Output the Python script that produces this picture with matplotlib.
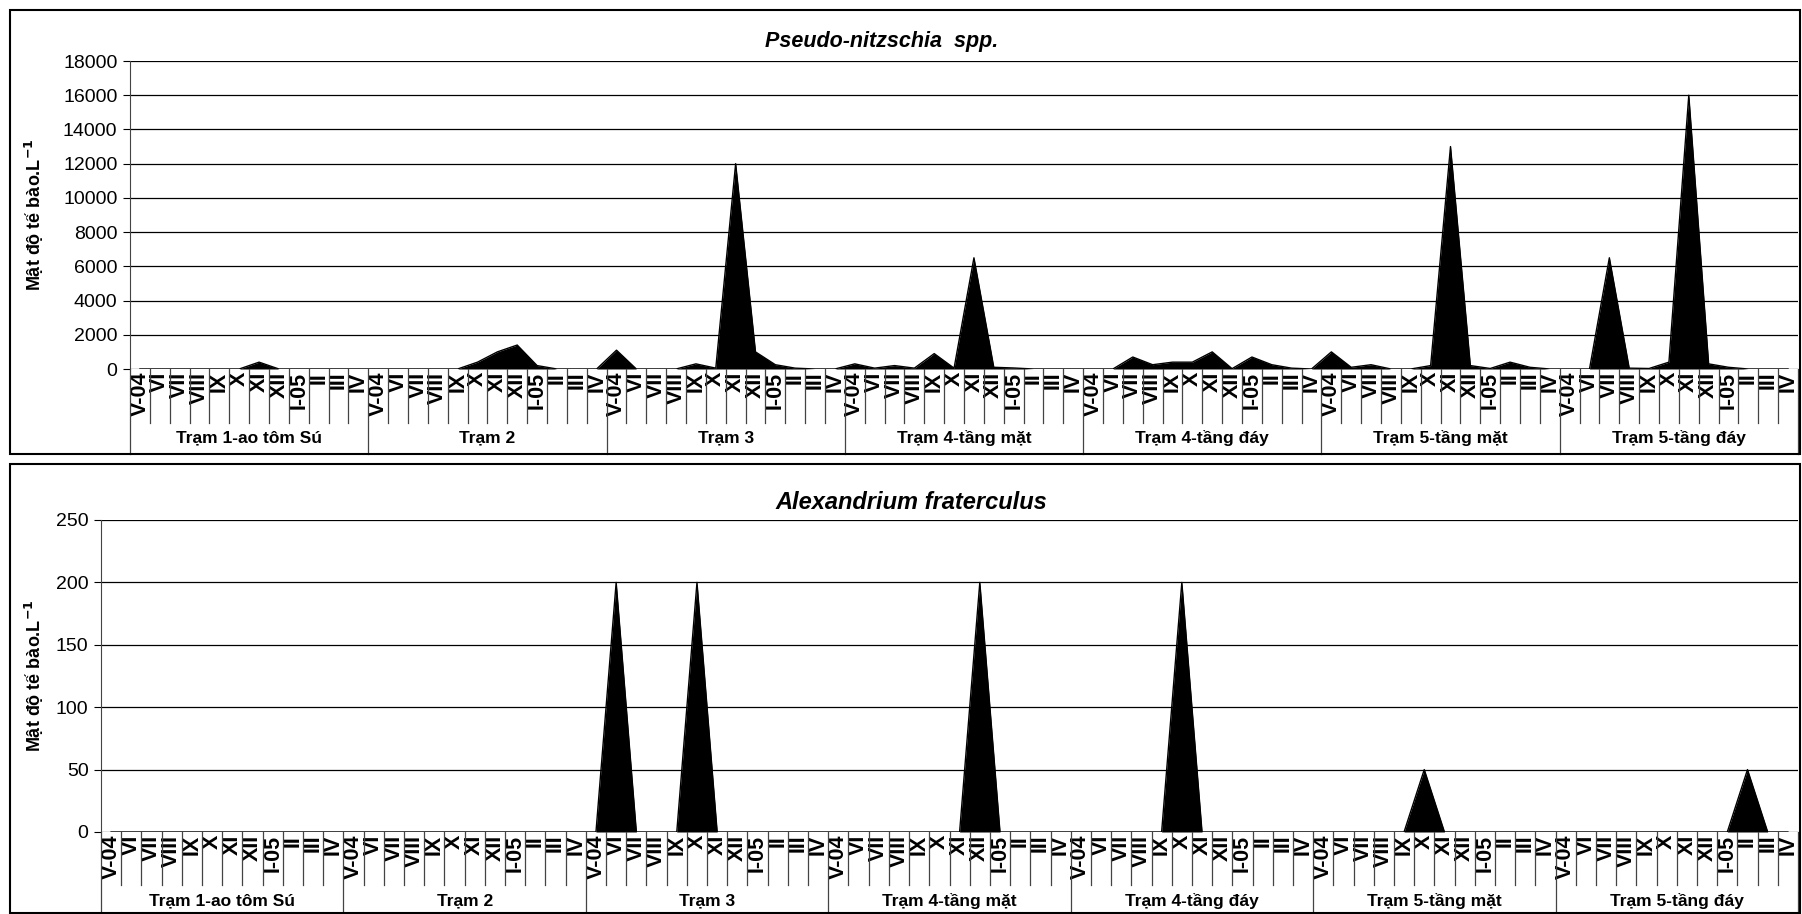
import numpy as np
import matplotlib
matplotlib.use("Agg")
import matplotlib.pyplot as plt
from matplotlib.transforms import blended_transform_factory
from matplotlib.patches import Rectangle

plt.rcParams['font.family'] = ['Liberation Sans', 'DejaVu Sans']

months = ['V-04', 'VI', 'VII', 'VIII', 'IX', 'X', 'XI', 'XII', 'I-05', 'II', 'III', 'IV']
stations = ['Trạm 1-ao tôm Sú', 'Trạm 2', 'Trạm 3', 'Trạm 4-tầng mặt',
            'Trạm 4-tầng đáy', 'Trạm 5-tầng mặt', 'Trạm 5-tầng đáy']

# Pseudo-nitzschia spp. (tế bào/L), 12 tháng cho mỗi trạm
pseudo_t1 = [0, 0, 0, 0, 0, 0, 400, 0, 0, 0, 0, 0]
pseudo_t2 = [0, 0, 0, 0, 0, 400, 1000, 1400, 200, 0, 0, 0]
pseudo_t3 = [1100, 0, 0, 0, 300, 50, 12000, 1000, 250, 50, 0, 0]
pseudo_t4m = [300, 50, 200, 50, 900, 50, 6500, 100, 60, 0, 0, 0]
pseudo_t4d = [0, 0, 700, 250, 400, 400, 1000, 20, 700, 250, 50, 0]
pseudo_t5m = [1000, 100, 250, 0, 0, 200, 13000, 200, 30, 400, 100, 0]
pseudo_t5d = [0, 0, 6500, 50, 30, 400, 16000, 300, 100, 0, 0, 0]

# Alexandrium fraterculus
alex_t1 = [0] * 12
alex_t2 = [0] * 12
alex_t3 = [0, 200, 0, 0, 0, 200, 0, 0, 0, 0, 0, 0]
alex_t4m = [0, 0, 0, 0, 0, 0, 0, 200, 0, 0, 0, 0]
alex_t4d = [0, 0, 0, 0, 0, 200, 0, 0, 0, 0, 0, 0]
alex_t5m = [0, 0, 0, 0, 0, 50, 0, 0, 0, 0, 0, 0]
alex_t5d = [0, 0, 0, 0, 0, 0, 0, 0, 0, 50, 0, 0]

pseudo = pseudo_t1 + pseudo_t2 + pseudo_t3 + pseudo_t4m + pseudo_t4d + pseudo_t5m + pseudo_t5d
alex = alex_t1 + alex_t2 + alex_t3 + alex_t4m + alex_t4d + alex_t5m + alex_t5d

W, H = 1802, 914
fig = plt.figure(figsize=(W / 100, H / 100), dpi=100)

# khung viền của hai biểu đồ
for (x0, y0, x1, y1) in [(10, 10, 1800, 454), (10, 464, 1800, 913)]:
    fig.patches.append(Rectangle((x0 / W, 1 - y1 / H), (x1 - x0) / W, (y1 - y0) / H,
                                 transform=fig.transFigure, fill=False,
                                 edgecolor='black', linewidth=1.5))


def draw_panel(rect, values, ymax, ystep, title, title_xy, title_size,
               ylabel_xy, month_depth, station_depth, station_y):
    ax = fig.add_axes(rect)
    n = len(values)
    x = np.arange(n)
    ax.fill_between(x, values, 0, color='black', linewidth=0)
    ax.plot(x, values, color='black', linewidth=1)
    ax.set_xlim(-0.5, n - 0.5)
    ax.set_ylim(0, ymax)
    ax.set_yticks(np.arange(0, ymax + 1, ystep))
    ax.yaxis.grid(True, color='black', linewidth=0.9)
    ax.set_axisbelow(True)
    for s in ['top', 'right', 'bottom']:
        ax.spines[s].set_visible(False)
    ax.spines['left'].set_color('#444444')
    ax.tick_params(axis='y', labelsize=14, length=5, width=0.8, pad=4)
    ax.set_xticks(x)
    ax.set_xticklabels(months * len(stations), rotation=90, fontweight='bold')
    ax.tick_params(axis='x', length=0, pad=2, labelsize=15.5)

    tr = blended_transform_factory(ax.transData, ax.transAxes)
    for k in range(n + 1):
        depth = station_depth if k % 12 == 0 else month_depth
        ax.plot([k - 0.5, k - 0.5], [0, -depth], transform=tr, color='#444444',
                linewidth=0.9, clip_on=False)
    for i, st in enumerate(stations):
        ax.text(i * 12 + 5.5, station_y, st, transform=tr, ha='center', va='center',
                fontsize=12.5, fontweight='bold')

    fig.text(title_xy[0], title_xy[1], title, ha='center', va='center',
             fontsize=title_size, fontweight='bold', fontstyle='italic')
    fig.text(ylabel_xy[0], ylabel_xy[1], 'Mật độ tế bào.L$^{\\mathbf{-1}}$', rotation=90,
             ha='center', va='center', fontsize=13, fontweight='bold')
    return ax


# biểu đồ trên: Pseudo-nitzschia spp.
draw_panel([130 / W, 1 - 369 / H, 1668 / W, 308 / H], pseudo, 18000, 2000,
           'Pseudo-nitzschia  spp.', (882 / W, 1 - 41 / H), 15.5,
           (34 / W, 1 - 215 / H), 54 / 308, 85 / 308, -69 / 308)

# biểu đồ dưới: Alexandrium fraterculus
draw_panel([101 / W, 1 - 832 / H, 1697 / W, 312 / H], alex, 250, 50,
           'Alexandrium fraterculus', (911 / W, 1 - 502 / H), 17,
           (34 / W, 1 - 676 / H), 53 / 312, 82 / 312, -69 / 312)

fig.savefig('out.png', dpi=100)
